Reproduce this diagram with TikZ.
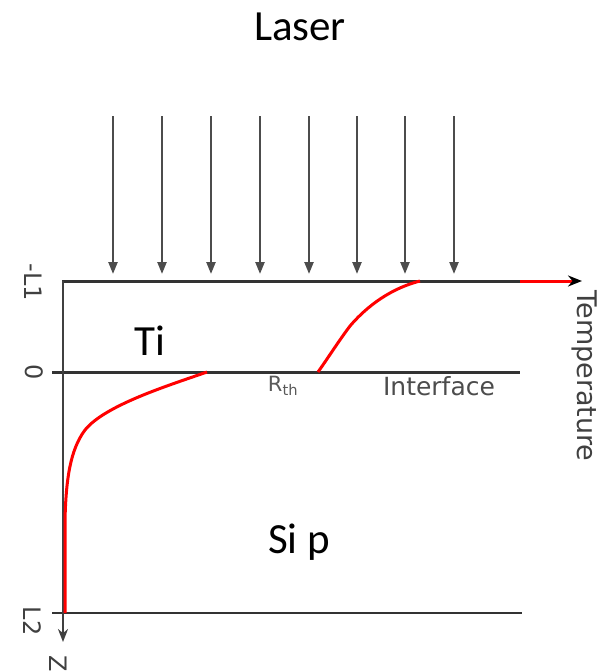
\documentclass[tikz,border=0pt]{standalone}
\usepackage{fontspec}
\setmainfont{Carlito}
\newfontfamily\djv{DejaVu Sans}
\usetikzlibrary{arrows.meta}
\begin{document}
\begin{tikzpicture}[x=1pt,y=-1pt,
  axisline/.style={draw=black!75,line width=2.3pt},
  layerline/.style={draw=black!80,line width=3pt},
  beam/.style={draw=black!70,line width=2.3pt,-{Triangle[length=12pt,width=9pt]}},
  redcurve/.style={draw=red,line width=3pt},
  big/.style={font=\fontsize{43}{50}\selectfont,anchor=base,inner sep=0pt},
  tick/.style={font=\djv\fontsize{24}{27}\selectfont,text=black!75,rotate=-90,inner sep=0pt}]
\useasboundingbox (0,0) rectangle (603,672);
% layer lines
\coordinate (tl) at (62,281); \coordinate (tr) at (520,281); \coordinate (tend) at (582,281);
\coordinate (il) at (52,372); \coordinate (ir) at (520,372);
\coordinate (bl) at (52,613); \coordinate (br) at (522,613);
\coordinate (ztop) at (63,281); \coordinate (zend) at (63,642);
\draw[layerline] (tl) -- (tr);
\draw[redcurve,-{Stealth[length=14pt,width=11pt,color=black]}] (tr) -- (tend);
\draw[layerline] (il) -- (ir);
\draw[layerline,line width=2.6pt] (bl) -- (br);
\draw[axisline,-{Stealth[length=13pt,width=10pt]}] (ztop) -- (zend);
% laser beams
\foreach \x [count=\i] in {113,162,211,260,309,357,405,454}{
  \coordinate (bs\i) at (\x,116);
  \coordinate (be\i) at (\x,274);
  \draw[beam] (bs\i) -- (be\i);
}
% red temperature profile
\draw[redcurve] (420,281) .. controls (385,290) and (362,312) .. (350,326)
  .. controls (338,342) and (328,358) .. (318,372);
\draw[redcurve] (207,372) .. controls (170,385) and (105,405) .. (85,430)
  .. controls (70,450) and (66,480) .. (65,520) -- (65,613);
% labels
\node[big] (laser) at (300,40) {Laser};
\node[big] (ti) at (150,355) {Ti};
\node[big] (sip) at (299,553) {Si p};
\node[font=\djv\fontsize{21}{24}\selectfont,text=black!65] (rth) at (283,386) {R\textsubscript{th}};
\node[font=\djv\fontsize{25}{28}\selectfont,text=black!70] (iface) at (439,386) {Interface};
\node[font=\djv\fontsize{27}{30}\selectfont,text=black!75,rotate=-90,inner sep=0pt] (temp) at (585,376) {Temperature};
\node[tick] (lm1) at (33,282) {-L1};
\node[tick] (l0) at (34,372) {0};
\node[tick] (l2) at (32,621) {L2};
\node[tick] (z) at (58,664) {Z};
\end{tikzpicture}
\end{document}
